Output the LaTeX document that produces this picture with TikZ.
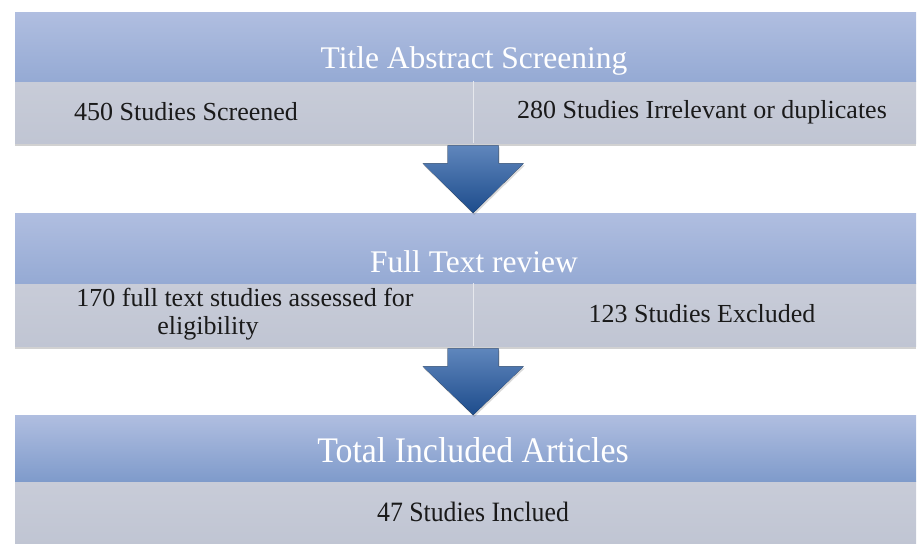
\documentclass[tikz,border=0pt]{standalone}
\usepackage{fontspec}
\setmainfont{Liberation Serif}
\usetikzlibrary{calc,shadows}

\definecolor{hdrtop}{HTML}{B0BEE0}
\definecolor{hdrbot}{HTML}{95AAD4}
\definecolor{hdrbotdark}{HTML}{7F9BCB}
\definecolor{bandtop}{HTML}{C8CCD8}
\definecolor{bandbot}{HTML}{C0C5D3}
\definecolor{arrtop}{HTML}{5F86BC}
\definecolor{arrbot}{HTML}{1D4C8C}
\definecolor{ink}{HTML}{1A1A1A}

\tikzset{
  hdr/.style={anchor=north west, inner sep=0pt, minimum width=901pt,
    top color=hdrtop, bottom color=hdrbot, draw=none},
  band/.style={anchor=north west, inner sep=0pt, minimum width=901pt,
    top color=bandtop, bottom color=bandbot, draw=none,
    drop shadow={shadow xshift=0pt, shadow yshift=-3pt, opacity=0.3, fill=black!60}},
  hdrtext/.style={text=white, inner sep=0pt, font=\fontsize{31.5}{35}\selectfont},
  bodytext/.style={text=ink, inner sep=0pt, font=\fontsize{26}{28}\selectfont, align=center},
  divider/.style={draw=white!55!bandtop, line width=0.6pt},
  downarrow/.style={top color=arrtop, bottom color=arrbot, draw=none,
    drop shadow={shadow xshift=1pt, shadow yshift=-2pt, opacity=0.25, fill=black!60}}
}

\begin{document}
\begin{tikzpicture}[x=1pt,y=-1pt]
\useasboundingbox (0,0) rectangle (920,543);

% stage 1: title / abstract screening
\node[band, minimum height=62pt] (b1) at (15,81) {};
\node[hdr, minimum height=69pt] (h1) at (15,12) {};
\draw[divider] (473,81) -- (473,143);
\node[hdrtext] (t1) at (474,61) {Title Abstract Screening};
\node[bodytext] (s1l) at (186,112) {450 Studies Screened};
\node[bodytext] (s1r) at (702,112) {280 Studies Irrelevant or duplicates};

% stage 2: full text review
\node[band, minimum height=63pt] (b2) at (15,283) {};
\node[hdr, minimum height=70pt] (h2) at (15,213) {};
\draw[divider] (473,283) -- (473,346);
\node[hdrtext] (t2) at (474,262) {Full Text review};
\node[bodytext] (s2l) at (245,314)
  {170 full text studies assessed for\\\hspace*{-74pt}eligibility};
\node[bodytext] (s2r) at (702,314) {123 Studies Excluded};

% stage 3: included articles
\node[band, minimum height=64pt] (b3) at (15,481) {};
\node[hdr, minimum height=66pt, bottom color=hdrbotdark] (h3) at (15,415) {};
\node[hdrtext] (t3) at (473,450)
  {\scalebox{0.94}[1]{\fontsize{36}{40}\selectfont Total Included Articles}};
\node[bodytext] (s3) at (473,512)
  {\scalebox{0.92}[1]{\fontsize{28}{30}\selectfont 47 Studies Inclued}};

% block arrows between the stages, centred on the column divider
\foreach \src/\dst in {b1/h2, b2/h3} {
  \fill[downarrow]
    ($(\src.south)+(-18,2)$) -- ($(\src.south)+(33,2)$)
    -- ($(\src.south)+(33,20)$) -- ($(\src.south)+(58,20)$)
    -- ($(\dst.north)+(7.5,0)$) -- ($(\src.south)+(-43,20)$)
    -- ($(\src.south)+(-18,20)$) -- cycle;
}
\end{tikzpicture}
\end{document}
